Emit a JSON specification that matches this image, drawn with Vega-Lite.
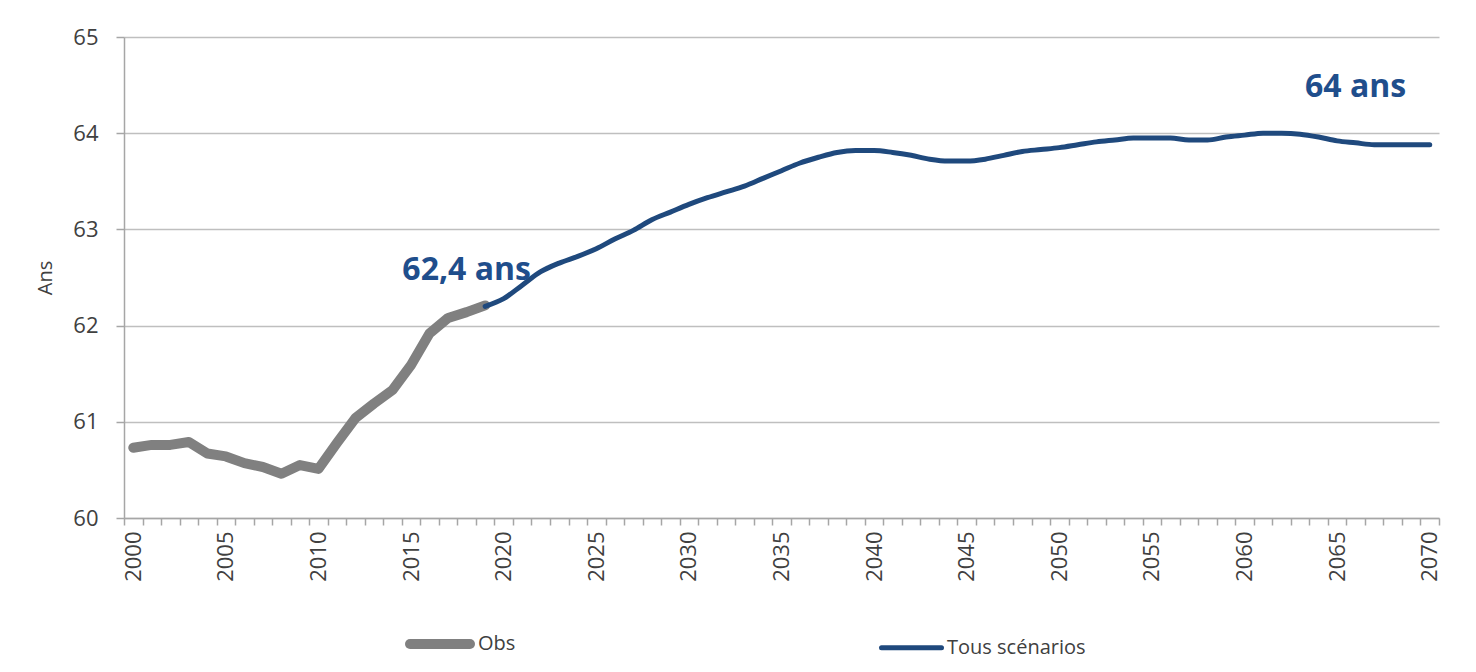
{
  "$schema": "https://vega.github.io/schema/vega-lite/v6.json",
  "width": 1315,
  "height": 481,
  "autosize": {"type": "none"},
  "padding": {"left": 124, "top": 37, "right": 37, "bottom": 154},
  "background": "white",
  "config": {
    "view": {"stroke": null},
    "font": "Open Sans",
    "axis": {"labelColor": "#404040", "titleColor": "#404040", "labelFont": "Open Sans", "titleFont": "Open Sans"}
  },
  "datasets": {
    "obs": [
      {"year": 2000, "value": 60.73, "series": "Obs"},
      {"year": 2001, "value": 60.76, "series": "Obs"},
      {"year": 2002, "value": 60.76, "series": "Obs"},
      {"year": 2003, "value": 60.79, "series": "Obs"},
      {"year": 2004, "value": 60.67, "series": "Obs"},
      {"year": 2005, "value": 60.64, "series": "Obs"},
      {"year": 2006, "value": 60.57, "series": "Obs"},
      {"year": 2007, "value": 60.53, "series": "Obs"},
      {"year": 2008, "value": 60.46, "series": "Obs"},
      {"year": 2009, "value": 60.55, "series": "Obs"},
      {"year": 2010, "value": 60.51, "series": "Obs"},
      {"year": 2011, "value": 60.78, "series": "Obs"},
      {"year": 2012, "value": 61.04, "series": "Obs"},
      {"year": 2013, "value": 61.19, "series": "Obs"},
      {"year": 2014, "value": 61.33, "series": "Obs"},
      {"year": 2015, "value": 61.59, "series": "Obs"},
      {"year": 2016, "value": 61.92, "series": "Obs"},
      {"year": 2017, "value": 62.08, "series": "Obs"},
      {"year": 2018, "value": 62.14, "series": "Obs"},
      {"year": 2019, "value": 62.21, "series": "Obs"}
    ],
    "proj": [
      {"year": 2019, "value": 62.20, "series": "Tous scénarios"},
      {"year": 2020, "value": 62.28, "series": "Tous scénarios"},
      {"year": 2021, "value": 62.42, "series": "Tous scénarios"},
      {"year": 2022, "value": 62.56, "series": "Tous scénarios"},
      {"year": 2023, "value": 62.65, "series": "Tous scénarios"},
      {"year": 2024, "value": 62.72, "series": "Tous scénarios"},
      {"year": 2025, "value": 62.80, "series": "Tous scénarios"},
      {"year": 2026, "value": 62.90, "series": "Tous scénarios"},
      {"year": 2027, "value": 62.99, "series": "Tous scénarios"},
      {"year": 2028, "value": 63.10, "series": "Tous scénarios"},
      {"year": 2029, "value": 63.18, "series": "Tous scénarios"},
      {"year": 2030, "value": 63.26, "series": "Tous scénarios"},
      {"year": 2031, "value": 63.33, "series": "Tous scénarios"},
      {"year": 2032, "value": 63.39, "series": "Tous scénarios"},
      {"year": 2033, "value": 63.45, "series": "Tous scénarios"},
      {"year": 2034, "value": 63.53, "series": "Tous scénarios"},
      {"year": 2035, "value": 63.61, "series": "Tous scénarios"},
      {"year": 2036, "value": 63.69, "series": "Tous scénarios"},
      {"year": 2037, "value": 63.75, "series": "Tous scénarios"},
      {"year": 2038, "value": 63.80, "series": "Tous scénarios"},
      {"year": 2039, "value": 63.82, "series": "Tous scénarios"},
      {"year": 2040, "value": 63.82, "series": "Tous scénarios"},
      {"year": 2041, "value": 63.80, "series": "Tous scénarios"},
      {"year": 2042, "value": 63.77, "series": "Tous scénarios"},
      {"year": 2043, "value": 63.73, "series": "Tous scénarios"},
      {"year": 2044, "value": 63.71, "series": "Tous scénarios"},
      {"year": 2045, "value": 63.71, "series": "Tous scénarios"},
      {"year": 2046, "value": 63.73, "series": "Tous scénarios"},
      {"year": 2047, "value": 63.77, "series": "Tous scénarios"},
      {"year": 2048, "value": 63.81, "series": "Tous scénarios"},
      {"year": 2049, "value": 63.83, "series": "Tous scénarios"},
      {"year": 2050, "value": 63.85, "series": "Tous scénarios"},
      {"year": 2051, "value": 63.88, "series": "Tous scénarios"},
      {"year": 2052, "value": 63.91, "series": "Tous scénarios"},
      {"year": 2053, "value": 63.93, "series": "Tous scénarios"},
      {"year": 2054, "value": 63.95, "series": "Tous scénarios"},
      {"year": 2055, "value": 63.95, "series": "Tous scénarios"},
      {"year": 2056, "value": 63.95, "series": "Tous scénarios"},
      {"year": 2057, "value": 63.93, "series": "Tous scénarios"},
      {"year": 2058, "value": 63.93, "series": "Tous scénarios"},
      {"year": 2059, "value": 63.96, "series": "Tous scénarios"},
      {"year": 2060, "value": 63.98, "series": "Tous scénarios"},
      {"year": 2061, "value": 64.00, "series": "Tous scénarios"},
      {"year": 2062, "value": 64.00, "series": "Tous scénarios"},
      {"year": 2063, "value": 63.99, "series": "Tous scénarios"},
      {"year": 2064, "value": 63.96, "series": "Tous scénarios"},
      {"year": 2065, "value": 63.92, "series": "Tous scénarios"},
      {"year": 2066, "value": 63.90, "series": "Tous scénarios"},
      {"year": 2067, "value": 63.88, "series": "Tous scénarios"},
      {"year": 2068, "value": 63.88, "series": "Tous scénarios"},
      {"year": 2069, "value": 63.88, "series": "Tous scénarios"},
      {"year": 2070, "value": 63.88, "series": "Tous scénarios"}
    ],
    "notes": [
      {"year": 2018, "value": 62.58, "label": "62,4 ans"},
      {"year": 2066, "value": 64.48, "label": "64 ans"}
    ]
  },
  "resolve": {"axis": {"x": "independent"}},
  "layer": [
    {
      "data": {"name": "obs"},
      "mark": {"type": "line", "strokeCap": "round", "strokeJoin": "round"},
      "encoding": {
        "x": {
          "field": "year",
          "type": "quantitative",
          "scale": {"domain": [1999.5, 2070.5], "nice": false, "zero": false},
          "axis": {
            "orient": "bottom",
            "title": null,
            "values": [2000, 2005, 2010, 2015, 2020, 2025, 2030, 2035, 2040, 2045, 2050, 2055, 2060, 2065, 2070],
            "format": "d",
            "labelAngle": -90,
            "labelFontSize": 22,
            "labelPadding": 13,
            "ticks": false,
            "domain": false,
            "grid": false
          }
        },
        "y": {
          "field": "value",
          "type": "quantitative",
          "scale": {"domain": [60, 65], "nice": false, "zero": false},
          "axis": {
            "title": "Ans",
            "titleFontSize": 20,
            "titleFontWeight": "normal",
            "titlePadding": 17,
            "values": [60, 61, 62, 63, 64, 65],
            "format": "d",
            "labelFontSize": 22,
            "labelPadding": 18,
            "tickSize": 8,
            "tickColor": "#A6A6A6",
            "tickWidth": 1.5,
            "domainColor": "#A6A6A6",
            "domainWidth": 1.5,
            "grid": true,
            "gridColor": "#BFBFBF",
            "gridWidth": 1.5
          }
        },
        "color": {
          "field": "series",
          "type": "nominal",
          "scale": {"domain": ["Obs", "Tous scénarios"], "range": ["#808080", "#1F497D"]},
          "legend": {
            "title": null,
            "orient": "none",
            "direction": "horizontal",
            "legendX": 281,
            "legendY": 572,
            "symbolType": "stroke",
            "symbolSize": 3600,
            "labelFontSize": 20,
            "labelColor": "#404040",
            "labelOffset": 3,
            "columnPadding": 355,
            "encode": {"symbols": {"update": {"strokeCap": {"value": "round"}}}}
          }
        },
        "strokeWidth": {
          "field": "series",
          "type": "nominal",
          "scale": {"domain": ["Obs", "Tous scénarios"], "range": [10, 5]},
          "legend": null
        }
      }
    },
    {
      "data": {"name": "proj"},
      "mark": {"type": "line", "interpolate": "monotone", "strokeCap": "round"},
      "encoding": {
        "x": {
          "field": "year",
          "type": "quantitative",
          "axis": {
            "orient": "bottom",
            "title": null,
            "values": [1999.5, 2000.5, 2001.5, 2002.5, 2003.5, 2004.5, 2005.5, 2006.5, 2007.5, 2008.5, 2009.5, 2010.5, 2011.5, 2012.5, 2013.5, 2014.5, 2015.5, 2016.5, 2017.5, 2018.5, 2019.5, 2020.5, 2021.5, 2022.5, 2023.5, 2024.5, 2025.5, 2026.5, 2027.5, 2028.5, 2029.5, 2030.5, 2031.5, 2032.5, 2033.5, 2034.5, 2035.5, 2036.5, 2037.5, 2038.5, 2039.5, 2040.5, 2041.5, 2042.5, 2043.5, 2044.5, 2045.5, 2046.5, 2047.5, 2048.5, 2049.5, 2050.5, 2051.5, 2052.5, 2053.5, 2054.5, 2055.5, 2056.5, 2057.5, 2058.5, 2059.5, 2060.5, 2061.5, 2062.5, 2063.5, 2064.5, 2065.5, 2066.5, 2067.5, 2068.5, 2069.5, 2070.5],
            "labels": false,
            "tickSize": 7,
            "tickColor": "#A6A6A6",
            "tickWidth": 1.5,
            "domainColor": "#A6A6A6",
            "domainWidth": 1.5,
            "grid": false
          }
        },
        "y": {"field": "value", "type": "quantitative"},
        "color": {"field": "series", "type": "nominal"},
        "strokeWidth": {"field": "series", "type": "nominal", "legend": null}
      }
    },
    {
      "data": {"name": "notes"},
      "mark": {"type": "text", "font": "Open Sans", "fontWeight": "bold", "fontSize": 32, "color": "#1F4E8C"},
      "encoding": {
        "x": {"field": "year", "type": "quantitative", "axis": null},
        "y": {"field": "value", "type": "quantitative"},
        "text": {"field": "label"}
      }
    }
  ]
}
